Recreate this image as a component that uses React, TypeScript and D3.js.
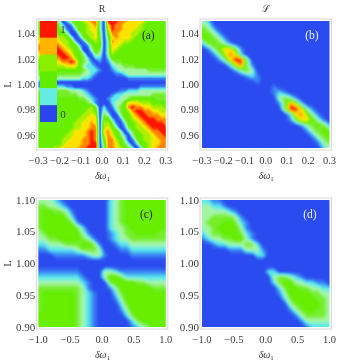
import React, { useMemo } from "react";
import * as d3 from "d3";

// Heat-map levels, 0 = blue ... 9 = red. Rows run top to bottom.
const gridA = [
  "55555 30245 56788 30999 88777 7655555",
  "55555 42014 55678 30798 87777 6555555",
  "55555 53102 55677 30698 87776 6555555",
  "55566 55300 35667 40588 77766 5555555",
  "66677 66530 14567 40478 77765 5555555",
  "77788 76652 01456 50387 76655 5555555",
  "88899 87655 20145 50377 65555 5555555",
  "88999 98765 40035 40376 55555 5555555",
  "77889 99875 53014 30365 55555 5555555",
  "66778 89986 54202 20255 55555 5555555",
  "55667 78898 54310 10134 45555 5555555",
  "55556 66777 53221 00023 34445 5555555",
  "45555 55555 54322 10012 33333 3344444",
  "44444 44444 43321 00001 12333 3333333",
  "33333 33333 32210 00000 00111 1111111",
  "11000 00000 00000 00000 00000 0000000",
  "11222 22110 00000 00000 00000 1111111",
  "44444 44433 32100 00000 11222 3333333",
  "55555 44444 33210 00012 23333 3334444",
  "55555 55555 44321 00122 33455 5555444",
  "55555 55555 55431 00023 35777 6665555",
  "55555 55555 55564 02013 45898 8776665",
  "55555 55555 55665 03102 45689 9887766",
  "55555 55555 56676 04300 35578 9988877",
  "55555 55555 66777 05520 14567 8999888",
  "55555 55556 67787 06641 02556 7899998",
  "55555 55556 67788 06753 01456 6789999",
  "55555 55567 77898 07865 30245 6678899",
  "55555 55667 77898 06875 42035 5667889",
  "55555 56677 78898 05886 53014 5667788",
  "55555 56777 78899 04887 54202 5567788",
  "55556 67777 88999 03887 65420 2567888",
];

const gridB = [
  "320000000000000000000000",
  "431000000000000000000000",
  "543100000000000000000000",
  "554310000000000000000000",
  "245431000000000000000000",
  "013577410000000000000000",
  "001368720000000000000000",
  "000137994000000000000000",
  "000002684100000000000000",
  "000000134300000000000000",
  "000000001210000000000000",
  "000000000010000000000000",
  "000000000000010000000000",
  "000000000000012100000000",
  "000000000000003431000000",
  "000000000000001486200000",
  "000000000000000499731000",
  "000000000000000027863100",
  "000000000000000014775310",
  "000000000000000000134542",
  "000000000000000000013455",
  "000000000000000000001345",
  "000000000000000000000134",
  "000000000000000000000023",
];

const gridC = [
  "333210000000023455555555",
  "443321000000023455555555",
  "455443100000023455555555",
  "455554200000023455555555",
  "455555410000023455555555",
  "455555542000023345555555",
  "345555553100012344555544",
  "334455554310012334444444",
  "223334445541001223333333",
  "112222234443000112222222",
  "000111111233100001111111",
  "000000000000000000000000",
  "000000000000000000000000",
  "111111110000332111111111",
  "222222221000355422222222",
  "333333332100045555443333",
  "444444443100013555555444",
  "455555543210002455555555",
  "455555543210001355555555",
  "455555543210000245555555",
  "455555543210000135555555",
  "555555543210000024555555",
  "555555543210000002455555",
  "555555543210000001234555",
];

const gridD = [
  "221100000000000000000000",
  "332210000000000000000000",
  "333332100000000000000000",
  "334444310000000000000000",
  "344455421000000000000000",
  "334555531000000000000000",
  "234455542100000000000000",
  "123344553100000000000000",
  "001223334420000000000000",
  "000001113331000000000000",
  "000000000022000000000000",
  "000000000000000000000000",
  "000000000000000000000000",
  "000000000000220000000000",
  "000000000000034432100000",
  "000000000000024553322110",
  "000000000000002455443322",
  "000000000000001355554433",
  "000000000000000245555443",
  "000000000000000034555543",
  "000000000000000013455443",
  "000000000000000001344443",
  "000000000000000000133333",
  "000000000000000000012222",
];

const levels = [0, 1, 2, 3, 4, 5, 6, 7, 8, 9];
const levelColors = ["#2a45ee", "#3a80f4", "#55e8f0", "#a8f6b0", "#78ee30", "#60ee00", "#a8f000", "#ffea00", "#ff9000", "#ff1500"];
const legendLevels = [9, 7.6, 5.6, 5, 2.2, 0];
const legendLabels = ["1", "", "", "", "", "0"];

const ticksFine = { x: [-0.3, -0.2, -0.1, 0, 0.1, 0.2, 0.3], y: [0.96, 0.98, 1.0, 1.02, 1.04] };
const ticksWide = { x: [-1, -0.5, 0, 0.5, 1], y: [0.9, 0.95, 1.0, 1.05, 1.1] };
const xMinorFine = d3.range(-0.3, 0.3001, 0.02);
const yMinorFine = d3.range(0.95, 1.0501, 0.005);
const xMinorWide = d3.range(-1, 1.0001, 0.1);
const yMinorWide = d3.range(0.9, 1.1001, 0.01);

const color = d3.scaleLinear<string>().domain(levels).range(levelColors).clamp(true);
const thresholds = d3.range(0, 9.01, 0.2);
const font = "'Liberation Serif', serif";
const ink = "#3a3a3a";

const fmtMinus = (s: string) => s.replace("-", "\u2212");

type PanelProps = {
  id: string;
  grid: string[];
  blur: string;
  left: number;
  top: number;
  xDomain: [number, number];
  yDomain: [number, number];
  xTicks: number[];
  yTicks: number[];
  xMinor: number[];
  yMinor: number[];
  yDigits: number;
  xDigits: number;
  yFont: number;
  showYLabel: boolean;
  title?: string;
  tag: string;
  tagColor: string;
  tagX: number;
};

const W = 127.5;
const H = 127;

function Panel(p: PanelProps) {
  const { paths } = useMemo(() => {
    const rows = p.grid.map((r) => r.replace(/ /g, ""));
    const n = rows[0].length;
    const m = rows.length;
    const values = rows.flatMap((r) => r.padEnd(n, "0").slice(0, n).split("").map(Number));
    const gx = d3.scaleLinear().domain([0, n]).range([-2, W + 2]);
    const gy = d3.scaleLinear().domain([0, m]).range([-2, H + 2]);
    const projection = d3.geoTransform({
      point(x: number, y: number) {
        (this as any).stream.point(gx(x), gy(y));
      },
    });
    const path = d3.geoPath(projection);
    const cs = d3.contours().size([n, m]).smooth(true).thresholds(thresholds)(values);
    return { paths: cs.map((c) => ({ d: path(c as any) || "", fill: color(c.value + 0.1) })) };
  }, [p.grid]);
  const x = d3.scaleLinear().domain(p.xDomain).range([0, W]);
  const y = d3.scaleLinear().domain(p.yDomain).range([H, 0]);
  const clip = `clip-${p.id}`;
  return (
    <g transform={`translate(${p.left},${p.top})`} fontFamily={font}>
      <clipPath id={clip}>
        <rect x={0} y={0} width={W} height={H} />
      </clipPath>
      <g clipPath={`url(#${clip})`}>
        <g filter={`url(#${p.blur})`}>
          {paths.map((c, i) => (
            <path key={i} d={c.d} fill={c.fill} />
          ))}
        </g>
      </g>
      <rect x={-2} y={-2} width={W + 4} height={H + 4} fill="none" stroke="#d8d8d8" strokeWidth={1} />
      {p.xMinor.map((v, i) => (
        <g key={i} stroke="#dcdcdc" strokeWidth={0.5}>
          <line x1={x(v)} x2={x(v)} y1={H + 2} y2={H + 1} />
          <line x1={x(v)} x2={x(v)} y1={-2} y2={-1} />
        </g>
      ))}
      {p.yMinor.map((v, i) => (
        <g key={i} stroke="#dcdcdc" strokeWidth={0.5}>
          <line y1={y(v)} y2={y(v)} x1={-2} x2={-1} />
          <line y1={y(v)} y2={y(v)} x1={W + 1} x2={W + 2} />
        </g>
      ))}
      <g filter="url(#textSoft)">
        {p.xTicks.map((v) => (
          <text key={v} x={x(v)} y={H + 15.5} textAnchor="middle" fontSize={10.5} fill={ink}>
            {fmtMinus(v.toFixed(p.xDigits))}
          </text>
        ))}
        {p.yTicks.map((v) => (
          <text key={v} x={-3} y={y(v) + 3.5} textAnchor="end" fontSize={p.yFont} fill={ink}>
            {v.toFixed(p.yDigits)}
          </text>
        ))}
        <text x={W / 2 + 0.5} y={H + 30.5} textAnchor="middle" fontSize={10} fill={ink}>
          <tspan fontStyle="italic">δω</tspan>
          <tspan dy={2} fontSize={7}>1</tspan>
        </text>
        {p.showYLabel && (
          <text transform={`translate(${-27},${H / 2}) rotate(-90)`} textAnchor="middle" fontSize={10.5} fill={ink}>
            L
          </text>
        )}
        {p.title && (
          <text x={W / 2} y={-9} textAnchor="middle" fontSize={10} fill={ink}>
            {p.title}
          </text>
        )}
        <text x={p.tagX} y={18} textAnchor="middle" fontSize={11.5} fill={p.tagColor}>
          {p.tag}
        </text>
      </g>
    </g>
  );
}

function Legend() {
  const y = d3.scaleBand<number>().domain(d3.range(legendLevels.length)).range([21, 122]);
  return (
    <g fontFamily={font}>
      {legendLevels.map((v, i) => (
        <g key={i}>
          <rect x={40} y={y(i)} width={17} height={y.bandwidth()} fill={color(v)} />
          {legendLabels[i] && (
            <text x={63} y={(y(i) as number) + y.bandwidth() / 2 + 4} textAnchor="middle" fontSize={11} fill={ink} filter="url(#textSoft)">
              {legendLabels[i]}
            </text>
          )}
        </g>
      ))}
    </g>
  );
}

export default function App() {
  const fine = { xTicks: ticksFine.x, yTicks: ticksFine.y, xMinor: xMinorFine, yMinor: yMinorFine, xDomain: [-0.3, 0.3] as [number, number], yDomain: [0.95, 1.05] as [number, number], xDigits: 1, yDigits: 2, yFont: 10.5 };
  const wide = { xTicks: ticksWide.x, yTicks: ticksWide.y, xMinor: xMinorWide, yMinor: yMinorWide, xDomain: [-1, 1] as [number, number], yDomain: [0.9, 1.1] as [number, number], xDigits: 1, yDigits: 2, yFont: 11 };
  return (
    <svg width={348} height={364} style={{ position: "absolute", left: 0, top: 0, background: "#fff" }}>
      <defs>
        <filter id="softA" x="-5%" y="-5%" width="110%" height="110%">
          <feGaussianBlur stdDeviation={0.5} />
        </filter>
        <filter id="softB" x="-5%" y="-5%" width="110%" height="110%">
          <feGaussianBlur stdDeviation={0.9} />
        </filter>
        <filter id="softC" x="-5%" y="-5%" width="110%" height="110%">
          <feGaussianBlur stdDeviation={1.3} />
        </filter>
        <filter id="textSoft" x="-5%" y="-5%" width="110%" height="110%">
          <feGaussianBlur stdDeviation={0.3} />
        </filter>
      </defs>
      <Panel id="a" grid={gridA} blur="softA" left={38.3} top={21} {...fine} showYLabel title="R" tag="(a)" tagColor="#2c2c2c" tagX={110} />
      <Panel id="b" grid={gridB} blur="softB" left={202} top={21} {...fine} showYLabel={false} title="ℒ" tag="(b)" tagColor="#e8f0ff" tagX={110} />
      <Panel id="c" grid={gridC} blur="softC" left={38.3} top={200} {...wide} showYLabel tag="(c)" tagColor="#2c2c2c" tagX={108} />
      <Panel id="d" grid={gridD} blur="softC" left={202} top={200} {...wide} showYLabel={false} tag="(d)" tagColor="#e8f0ff" tagX={108} />
      <Legend />
    </svg>
  );
}
